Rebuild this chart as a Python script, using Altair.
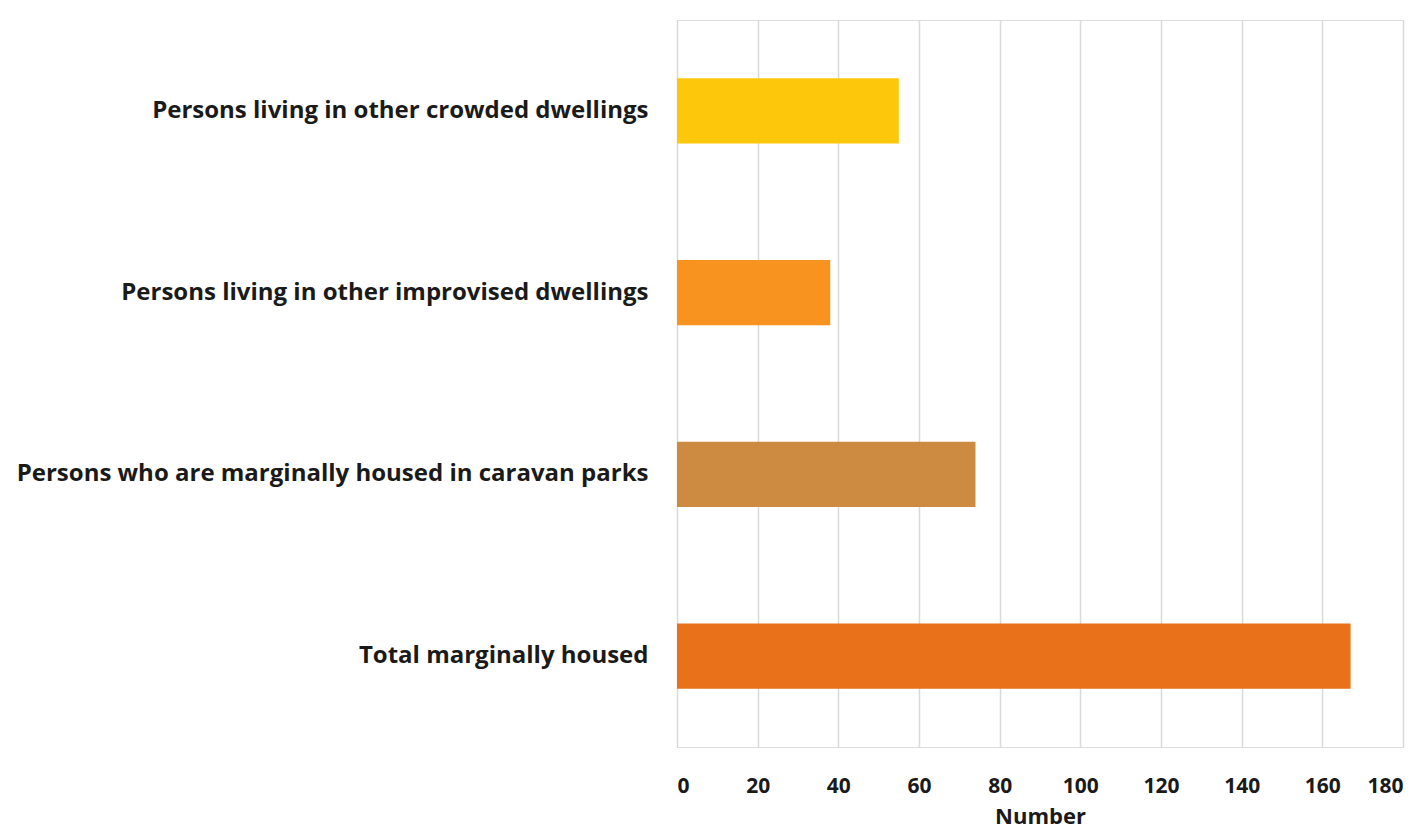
import altair as alt
import pandas as pd

categories = [
    "Persons living in other crowded dwellings",
    "Persons living in other improvised dwellings",
    "Persons who are marginally housed in caravan parks",
    "Total marginally housed",
]
values = [55, 38, 74, 167]
colors = ["#FDC80C", "#F7931E", "#CD8B41", "#E8711A"]

df = pd.DataFrame({"category": categories, "value": values, "color": colors})

FONT = "Open Sans"

chart = (
    alt.Chart(df)
    .mark_bar()
    .encode(
        y=alt.Y(
            "category:N",
            sort=categories,
            title=None,
            scale=alt.Scale(paddingInner=0.64, paddingOuter=0.32),
            axis=alt.Axis(
                domain=False,
                ticks=False,
                labelFont=FONT,
                labelFontWeight="bold",
                labelFontSize=24,
                labelColor="#1a1a1a",
                labelPadding=29,
                labelLimit=700,
            ),
        ),
        x=alt.X(
            "value:Q",
            title="Number",
            scale=alt.Scale(domain=[0, 180]),
            axis=alt.Axis(
                values=list(range(0, 181, 20)),
                domain=False,
                ticks=False,
                grid=True,
                gridColor="#d9d9d9",
                gridWidth=1.5,
                labelFont=FONT,
                labelFontWeight="bold",
                labelFontSize=21,
                labelColor="#1a1a1a",
                labelPadding=28,
                titleFont=FONT,
                titleFontWeight="bold",
                titleFontSize=22,
                titleColor="#1a1a1a",
                titlePadding=10,
            ),
        ),
        color=alt.Color("color:N", scale=None, legend=None),
    )
    .properties(
        width=726,
        height=727,
        autosize=alt.AutoSizeParams(type="none"),
        padding={"left": 677, "top": 20, "right": 25, "bottom": 84},
    )
    .configure_view(stroke=None)
    .configure(background="white")
)

chart.save("out.html", embed_options={"renderer": "svg", "actions": False})
